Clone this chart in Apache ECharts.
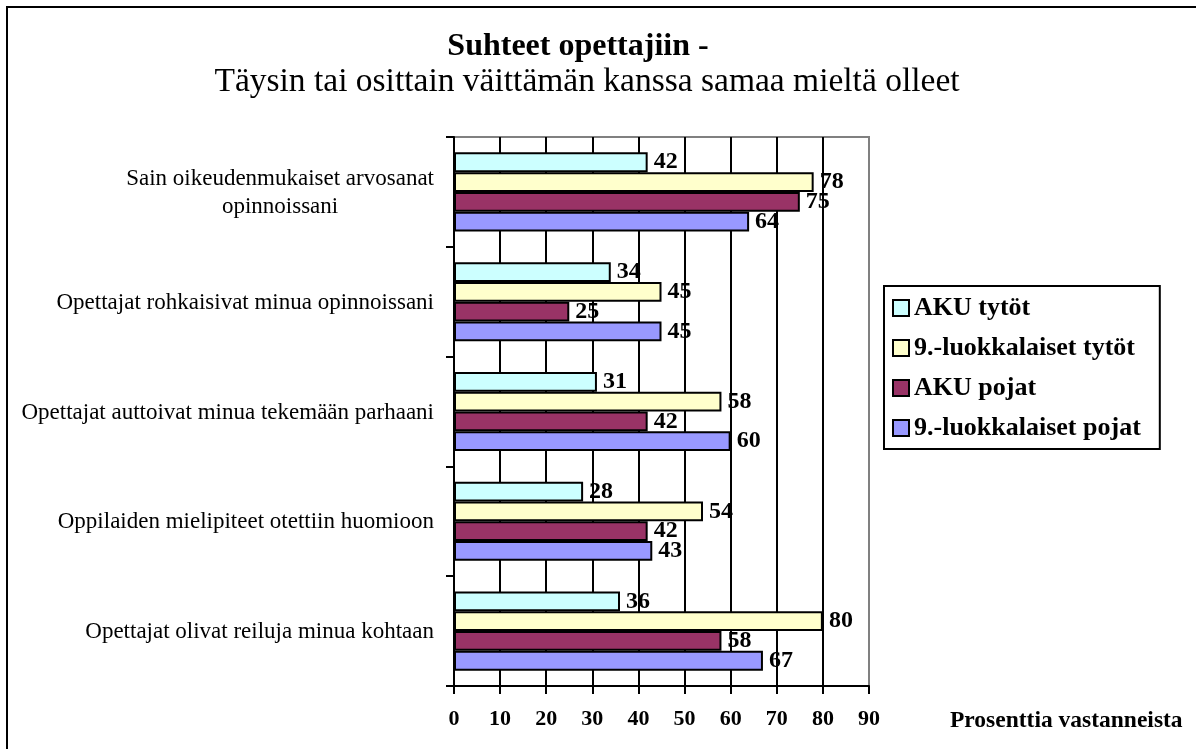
<!DOCTYPE html>
<html>
<head>
<meta charset="utf-8">
<script src="https://cdn.jsdelivr.net/npm/echarts@6/dist/echarts.min.js"></script>
<style>html,body{margin:0;padding:0;background:#fff}#c{width:1196px;height:749px}</style>
</head>
<body>
<div id="c"></div>
<script>
const categories = [
  "Sain oikeudenmukaiset arvosanat\nopinnoissani",
  "Opettajat rohkaisivat minua opinnoissani",
  "Opettajat auttoivat minua tekemään parhaani",
  "Oppilaiden mielipiteet otettiin huomioon",
  "Opettajat olivat reiluja minua kohtaan"
];
const seriesNames = ["AKU tytöt", "9.-luokkalaiset tytöt", "AKU pojat", "9.-luokkalaiset pojat"];
const akuTytot = [42, 34, 31, 28, 36];
const ysiTytot = [78, 45, 58, 54, 80];
const akuPojat = [75, 25, 42, 42, 58];
const ysiPojat = [64, 45, 60, 43, 67];
const xTicks = [0, 10, 20, 30, 40, 50, 60, 70, 80, 90];
const colors = ["#CCFFFF", "#FFFFCC", "#993366", "#9999FF"];

const FONT = "'Liberation Serif', 'Times New Roman', serif";
const allData = [akuTytot, ysiTytot, akuPojat, ysiPojat];

const chart = echarts.init(document.getElementById('c'), null, {renderer: 'canvas'});
const option = {
  backgroundColor: '#fff',
  animation: false,
  title: [{
    text: 'Suhteet opettajiin -',
    left: 573,
    top: 26,
    textAlign: 'center',
    textStyle: {fontFamily: FONT, fontSize: 32, fontWeight: 'bold', color: '#000', lineHeight: 32}
  }, {
    text: 'Täysin tai osittain väittämän kanssa samaa mieltä olleet',
    left: 582,
    top: 60,
    textAlign: 'center',
    textStyle: {fontFamily: FONT, fontSize: 33.5, fontWeight: 'normal', color: '#000', lineHeight: 34}
  }],
  legend: {
    orient: 'vertical',
    left: 884,
    top: 286,
    padding: [9, 19, 8, 8],
    itemGap: 14,
    itemWidth: 16,
    itemHeight: 16,
    borderColor: '#000',
    borderWidth: 2,
    backgroundColor: '#fff',
    icon: 'rect',
    data: seriesNames,
    textStyle: {fontFamily: FONT, fontSize: 26, fontWeight: 'bold', color: '#000'}
  },
  grid: {
    left: 454, right: 327, top: 137, bottom: 63,
    show: true, borderColor: '#808080', borderWidth: 2, backgroundColor: 'transparent'
  },
  xAxis: {
    type: 'value',
    min: 0, max: 90, interval: 10,
    name: 'Prosenttia vastanneista',
    nameLocation: 'end',
    nameGap: 81,
    nameTextStyle: {fontFamily: FONT, fontSize: 23.5, fontWeight: 'bold', color: '#000', verticalAlign: 'top', padding: [23, 0, 0, 0]},
    axisLine: {show: true, lineStyle: {color: '#000', width: 2}},
    axisTick: {show: true, length: 8, lineStyle: {color: '#000', width: 2}},
    axisLabel: {margin: 22, fontFamily: FONT, fontSize: 22, fontWeight: 'bold', color: '#000',
      formatter: v => xTicks.includes(v) ? String(v) : ''},
    splitLine: {show: true, showMinLine: true, showMaxLine: true,
      lineStyle: {color: ['#000','#000','#000','#000','#000','#000','#000','#000','#000','#808080'], width: 2}}
  },
  yAxis: {
    type: 'category',
    inverse: true,
    data: categories,
    axisLine: {show: true, lineStyle: {color: '#000', width: 2}},
    axisTick: {show: true, length: 8, alignWithLabel: false, lineStyle: {color: '#000', width: 2}},
    axisLabel: {
      margin: 20, color: '#000', fontFamily: FONT, fontSize: 23,
      formatter: v => v.split('\n').map(l => '{c|' + l + '}').join('\n'),
      rich: {c: {align: 'center', fontFamily: FONT, fontSize: 23, lineHeight: 28, color: '#000', padding: [2, 0, 0, 0]}}
    },
    splitLine: {show: false}
  },
  series: seriesNames.map((n, i) => ({
    name: n,
    type: 'bar',
    data: allData[i],
    barGap: '0%',
    barCategoryGap: '28%',
    itemStyle: {color: colors[i], borderColor: '#000', borderWidth: 2},
    label: {show: true, position: 'right', distance: 6, fontFamily: FONT, fontSize: 24, fontWeight: 'bold', color: '#000'}
  })),
  graphic: [{
    type: 'rect', silent: true, z: 100,
    shape: {x: 7, y: 7, width: 1300, height: 800},
    style: {fill: 'none', stroke: '#000', lineWidth: 2}
  }]
};
chart.setOption(option);
</script>
</body>
</html>
